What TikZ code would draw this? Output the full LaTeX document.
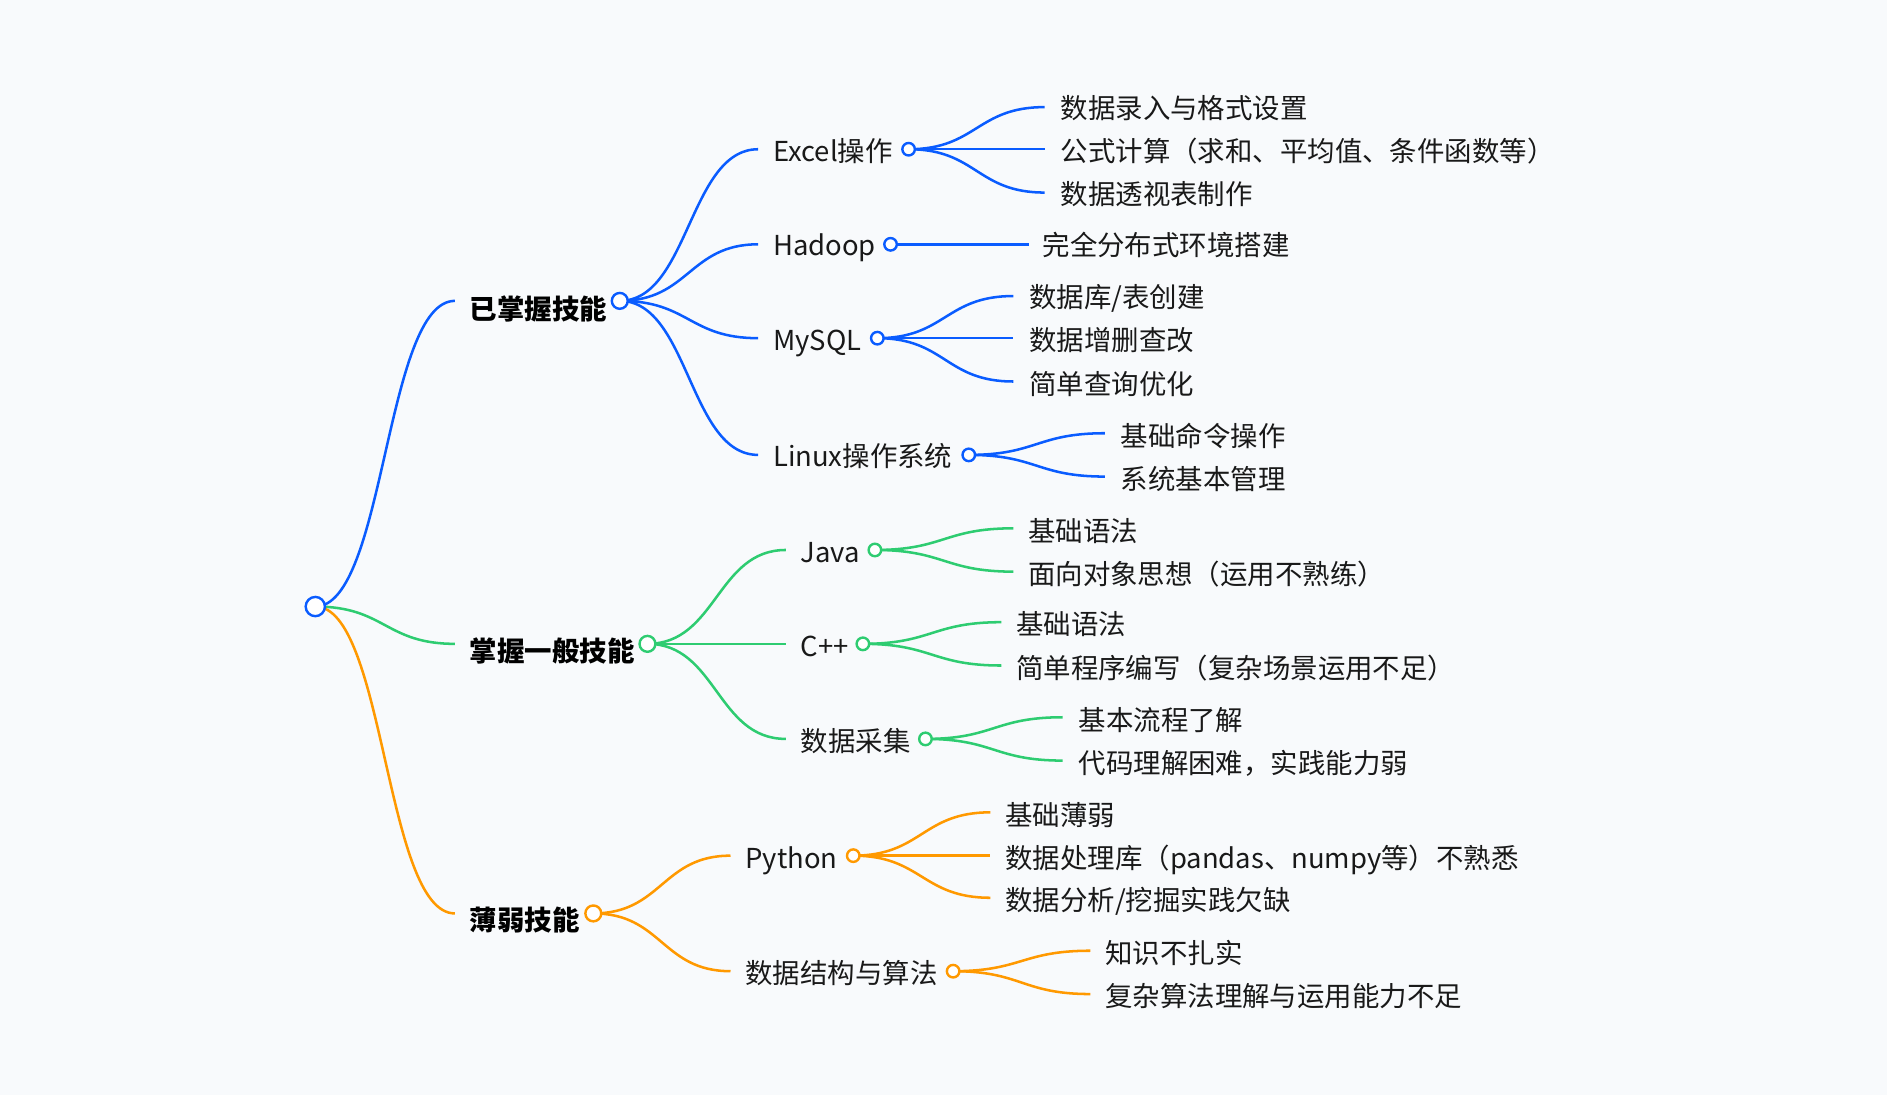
\documentclass[tikz,border=0pt]{standalone}
\usepackage{fontspec}
\setmainfont{Noto Sans CJK SC}
\usetikzlibrary{calc}
\definecolor{bgc}{HTML}{F8FAFC}
\definecolor{cb}{HTML}{0A5CFF}
\definecolor{cg}{HTML}{2ECC71}
\definecolor{co}{HTML}{FF9900}
\newcommand\sbranch[3]{\draw[#1,line width=1.05pt] let \p1=(#2), \p2=(#3) in (\p1) .. controls ({0.5*\x1+0.5*\x2},\y1) and ({0.5*\x1+0.5*\x2},\y2) .. (\p2);}
\begin{document}
\begin{tikzpicture}[x=0.5pt,y=-0.5pt,
  lbl/.style={font=\fontsize{11.4pt}{13pt}\selectfont, inner sep=0pt, anchor=west, text height=10pt, text depth=1.4pt, text=black!90, yshift=-0.5pt},
  lblb/.style={lbl, font=\fontsize{11.4pt}{13pt}\selectfont\bfseries, text=black},
  dot/.style={circle, draw=#1, fill=white, line width=1pt, inner sep=0pt, minimum size=5.2pt},
  dotm/.style={dot=#1, minimum size=6.6pt},
  dotr/.style={dot=#1, minimum size=8pt}]
\fill[bgc] (0,0) rectangle (1568,910);
\useasboundingbox (0,0) rectangle (1568,910);
% ---------- coordinates ----------
\coordinate (r) at (262,504);
\coordinate (A) at (515,250);
\coordinate (B) at (538,535);
\coordinate (C) at (493,759);
\coordinate (eA) at (378,250);
\coordinate (eB) at (378,535);
\coordinate (eC) at (378,759);
% level 2 blue
\coordinate (A1) at (755,124);
\coordinate (A2) at (740,203);
\coordinate (A3) at (729,281);
\coordinate (A4) at (805,378);
\coordinate (eA1) at (630,124);
\coordinate (eA2) at (630,203);
\coordinate (eA3) at (630,281);
\coordinate (eA4) at (630,378);
% level 2 green
\coordinate (B1) at (727,457);
\coordinate (B2) at (717,535);
\coordinate (B3) at (769,614);
\coordinate (eB1) at (653,457);
\coordinate (eB2) at (653,535);
\coordinate (eB3) at (653,614);
% level 2 orange
\coordinate (C1) at (709,711);
\coordinate (C2) at (792,807);
\coordinate (eC1) at (607,711);
\coordinate (eC2) at (607,807);
% level 3 ends
\coordinate (eA11) at (868,89);
\coordinate (eA12) at (868,124);
\coordinate (eA13) at (868,160);
\coordinate (eA21) at (855,203);
\coordinate (eA31) at (842,246);
\coordinate (eA32) at (842,281);
\coordinate (eA33) at (842,317);
\coordinate (eA41) at (918,360);
\coordinate (eA42) at (918,396);
\coordinate (eB11) at (842,439);
\coordinate (eB12) at (842,475);
\coordinate (eB21) at (832,517);
\coordinate (eB22) at (832,553);
\coordinate (eB31) at (883,596);
\coordinate (eB32) at (883,632);
\coordinate (eC11) at (823,675);
\coordinate (eC12) at (823,711);
\coordinate (eC13) at (823,746);
\coordinate (eC21) at (906,790);
\coordinate (eC22) at (906,826);
% ---------- connectors ----------
\sbranch{cb}{r}{eA}
\sbranch{cg}{r}{eB}
\sbranch{co}{r}{eC}
\sbranch{cb}{A}{eA1}
\sbranch{cb}{A}{eA2}
\sbranch{cb}{A}{eA3}
\sbranch{cb}{A}{eA4}
\sbranch{cg}{B}{eB1}
\sbranch{cg}{B}{eB2}
\sbranch{cg}{B}{eB3}
\sbranch{co}{C}{eC1}
\sbranch{co}{C}{eC2}
\sbranch{cb}{A1}{eA11}
\sbranch{cb}{A1}{eA12}
\sbranch{cb}{A1}{eA13}
\sbranch{cb}{A2}{eA21}
\sbranch{cb}{A3}{eA31}
\sbranch{cb}{A3}{eA32}
\sbranch{cb}{A3}{eA33}
\sbranch{cb}{A4}{eA41}
\sbranch{cb}{A4}{eA42}
\sbranch{cg}{B1}{eB11}
\sbranch{cg}{B1}{eB12}
\sbranch{cg}{B2}{eB21}
\sbranch{cg}{B2}{eB22}
\sbranch{cg}{B3}{eB31}
\sbranch{cg}{B3}{eB32}
\sbranch{co}{C1}{eC11}
\sbranch{co}{C1}{eC12}
\sbranch{co}{C1}{eC13}
\sbranch{co}{C2}{eC21}
\sbranch{co}{C2}{eC22}
% ---------- circles ----------
\node[dotr=cb] (nr) at (r) {};
\node[dotm=cb] (nA) at (A) {};
\node[dotm=cg] (nB) at (B) {};
\node[dotm=co] (nC) at (C) {};
\node[dot=cb] (nA1) at (A1) {};
\node[dot=cb] (nA2) at (A2) {};
\node[dot=cb] (nA3) at (A3) {};
\node[dot=cb] (nA4) at (A4) {};
\node[dot=cg] (nB1) at (B1) {};
\node[dot=cg] (nB2) at (B2) {};
\node[dot=cg] (nB3) at (B3) {};
\node[dot=co] (nC1) at (C1) {};
\node[dot=co] (nC2) at (C2) {};
% ---------- labels ----------
\node[lblb] (tA) at (390,256) {已掌握技能};
\node[lblb] (tB) at (390,540) {掌握一般技能};
\node[lblb] (tC) at (390,764) {薄弱技能};
\node[lbl] (tA1) at (642,125) {Excel操作};
\node[lbl] (tA2) at (642,203) {Hadoop};
\node[lbl] (tA3) at (642,282) {MySQL};
\node[lbl] (tA4) at (642,378) {Linux操作系统};
\node[lbl] (tB1) at (665,458) {Java};
\node[lbl] (tB2) at (665,536) {C++};
\node[lbl] (tB3) at (665,615) {数据采集};
\node[lbl] (tC1) at (619,712) {Python};
\node[lbl] (tC2) at (619,808) {数据结构与算法};
\node[lbl] (tA11) at (881,89) {数据录入与格式设置};
\node[lbl] (tA12) at (881,125) {公式计算（求和、平均值、条件函数等）};
\node[lbl] (tA13) at (881,160) {数据透视表制作};
\node[lbl] (tA21) at (866,203) {完全分布式环境搭建};
\node[lbl] (tA31) at (855,246) {数据库/表创建};
\node[lbl] (tA32) at (855,282) {数据增删查改};
\node[lbl] (tA33) at (855,318) {简单查询优化};
\node[lbl] (tA41) at (931,361) {基础命令操作};
\node[lbl] (tA42) at (931,397) {系统基本管理};
\node[lbl] (tB11) at (854,440) {基础语法};
\node[lbl] (tB12) at (854,476) {面向对象思想（运用不熟练）};
\node[lbl] (tB21) at (844,518) {基础语法};
\node[lbl] (tB22) at (844,554) {简单程序编写（复杂场景运用不足）};
\node[lbl] (tB31) at (896,597) {基本流程了解};
\node[lbl] (tB32) at (896,633) {代码理解困难，实践能力弱};
\node[lbl] (tC11) at (835,676) {基础薄弱};
\node[lbl] (tC12) at (835,712) {数据处理库（pandas、numpy等）不熟悉};
\node[lbl] (tC13) at (835,747) {数据分析/挖掘实践欠缺};
\node[lbl] (tC21) at (918,791) {知识不扎实};
\node[lbl] (tC22) at (918,827) {复杂算法理解与运用能力不足};
\end{tikzpicture}
\end{document}
